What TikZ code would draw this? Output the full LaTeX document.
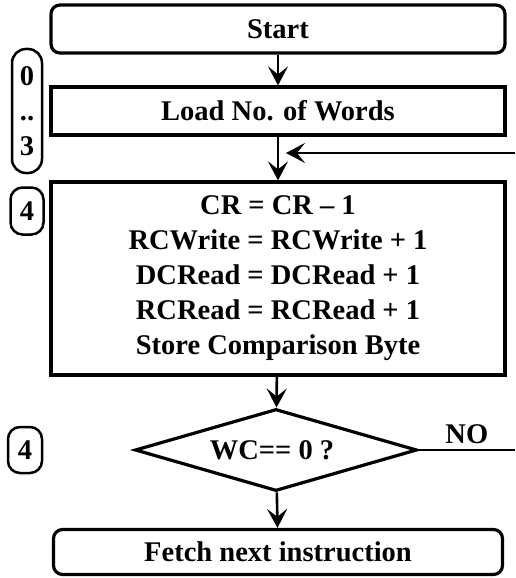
\documentclass[tikz,border=0pt]{standalone}
\usepackage{fontspec}
\setmainfont{Liberation Serif}
\usetikzlibrary{shapes.geometric,arrows.meta}

\begin{document}
\begin{tikzpicture}[x=1pt,y=-1pt,
    font=\fontsize{28.5}{35}\selectfont\bfseries,
    box/.style={draw, line width=3.2pt, minimum width=454pt, minimum height=48pt, inner sep=0pt, align=center},
    roundbox/.style={box, rounded corners=9pt},
    badge/.style={draw, line width=2.5pt, rounded corners=14pt, inner sep=0pt, align=center},
    dec/.style={draw, shape=diamond, line width=3.2pt, aspect=3.44, minimum width=282pt, minimum height=82pt, inner sep=0pt},
    arr/.style={line width=2.6pt, -{Stealth[length=19pt,width=20pt,inset=8pt]}}]
    \useasboundingbox (0,0) rectangle (515,578);

    % Main boxes
    \node[roundbox] (start) at (278,29) {Start};
    \node[box] (load) at (278,111) {Load No. of Words};
    \node[box, minimum height=193pt] (update) at (278,278.5)
        {CR = CR – 1\\RCWrite = RCWrite + 1\\DCRead = DCRead + 1\\RCRead = RCRead + 1\\Store Comparison Byte};
    \node[dec] (test) at (276,450) {WC== 0 ?\hspace*{8pt}};
    \node[roundbox, minimum width=449pt, minimum height=45pt] (fetch) at (278,552) {Fetch next instruction};

    % Step badges
    \node[badge, minimum width=30pt, minimum height=124pt] (b03) at (27,111) {0\\..\\3};
    \node[badge, minimum width=33pt, minimum height=47pt, rounded corners=12pt] (b4a) at (27,211) {4};
    \node[badge, minimum width=34pt, minimum height=46pt, rounded corners=12pt] (b4b) at (25,450) {4};

    % Flow
    \draw[arr] (start) -- (load);
    \draw[arr] (load) -- (update);
    \draw[arr] (update) -- (test);
    \draw[arr] (test) -- (fetch);

    % Loop back
    \coordinate (back) at (515,153);
    \path (load.south |- back) ++(8,0) coordinate (backin);
    \draw[arr] (back) -- (backin);
    \coordinate (noend) at (515,450);
    \draw[line width=2.2pt] (test.east) -- node[above=2pt]{NO} (noend);
\end{tikzpicture}
\end{document}
